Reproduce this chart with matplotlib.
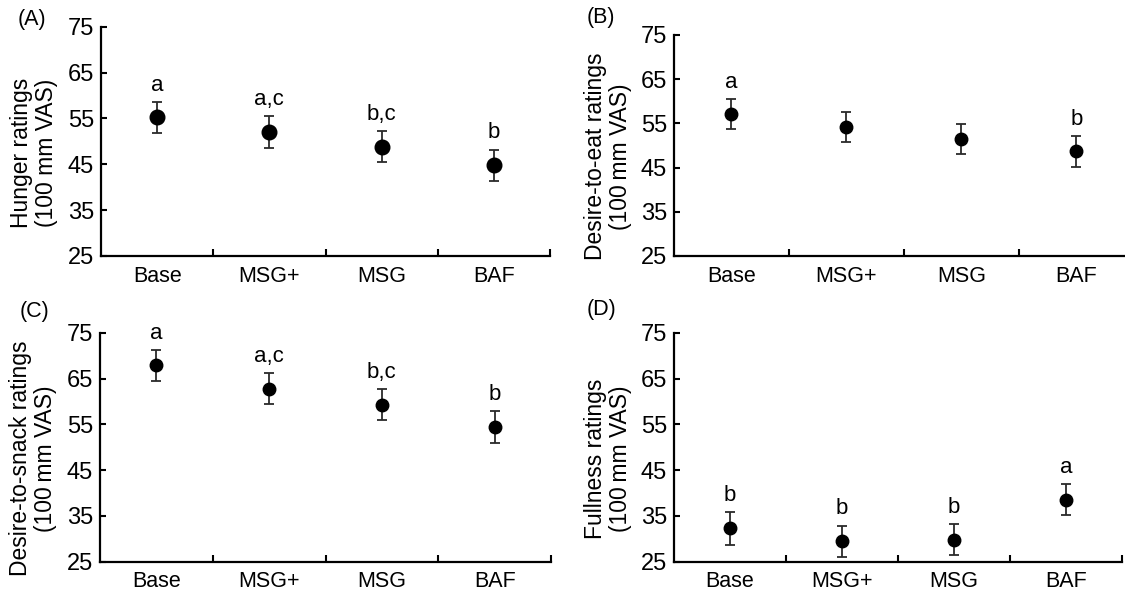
import matplotlib
matplotlib.use("Agg")
import matplotlib.pyplot as plt

plt.rcParams['font.family'] = ['Liberation Sans', 'DejaVu Sans']

conditions = ['Base', 'MSG+', 'MSG', 'BAF']

hunger_mean = [55.2, 52.1, 48.8, 44.8]
hunger_se = [3.4, 3.5, 3.4, 3.4]
hunger_letters = ['a', 'a,c', 'b,c', 'b']

eat_mean = [57.2, 54.2, 51.5, 48.7]
eat_se = [3.4, 3.4, 3.4, 3.5]
eat_letters = ['a', '', '', 'b']

snack_mean = [67.9, 62.8, 59.3, 54.4]
snack_se = [3.4, 3.4, 3.4, 3.4]
snack_letters = ['a', 'a,c', 'b,c', 'b']

full_mean = [32.3, 29.5, 29.8, 38.5]
full_se = [3.6, 3.4, 3.4, 3.4]
full_letters = ['b', 'b', 'b', 'a']

panels = [
    ('(A)', 'Hunger ratings\n(100 mm VAS)', hunger_mean, hunger_se, hunger_letters,
     [0.0898, 0.5676, 0.3991, 0.3873], (18, 20), 10.5, 43),
    ('(B)', 'Desire-to-eat ratings\n(100\u2009mm VAS)', eat_mean, eat_se, eat_letters,
     [0.5991, 0.5676, 0.4089, 0.3733], (587, 17), 9, 42),
    ('(C)', 'Desire-to-snack ratings\n(100\u2009mm VAS)', snack_mean, snack_se, snack_letters,
     [0.0889, 0.0512, 0.4009, 0.3868], (20, 311), 9, 43),
    ('(D)', 'Fullness ratings\n(100\u2009mm VAS)', full_mean, full_se, full_letters,
     [0.5991, 0.0512, 0.3982, 0.3868], (587, 310), 9, 42),
]

fig = plt.figure(figsize=(11.25, 5.92), dpi=100)
W, H = 1125, 592
fs = 15.5

for tag, ylab, mean, se, letters, rect, tagpos, msize, lab_off in panels:
    ax = fig.add_axes(rect)
    xs = [i + 0.5 for i in range(len(conditions))]
    ax.errorbar(xs, mean, yerr=se, fmt='o', color='black', ecolor='#2a2a2a',
                markersize=msize, elinewidth=1.3, capsize=3.5, capthick=1.3)
    for x, m, s, lab in zip(xs, mean, se, letters):
        if lab:
            ax.annotate(lab, (x, m + s), xytext=(0, 8), textcoords='offset points',
                        ha='center', va='baseline', fontsize=fs + 0.5)
    ax.set_xlim(0, 4)
    ax.set_ylim(25, 75)
    ax.set_yticks(range(25, 76, 10))
    ax.set_xticks(xs)
    ax.set_xticklabels(conditions)
    ax.set_xticks([1, 2, 3, 4], minor=True)
    ax.tick_params(axis='x', which='major', length=0, pad=7, labelsize=fs)
    ax.tick_params(axis='x', which='minor', direction='in', length=5, width=1.5)
    ax.tick_params(axis='y', direction='in', length=4, width=1.5, pad=5, labelsize=17)
    for side in ['top', 'right']:
        ax.spines[side].set_visible(False)
    for side in ['left', 'bottom']:
        ax.spines[side].set_linewidth(1.6)
    ax.set_ylabel(ylab, fontsize=16.5, linespacing=1.1)
    ax.yaxis.set_label_coords(-lab_off / (rect[2] * W), 0.45)
    fig.text(tagpos[0] / W, 1 - tagpos[1] / H, tag, fontsize=fs, va='center', ha='left')

fig.savefig('out.png', dpi=100, facecolor='white')
